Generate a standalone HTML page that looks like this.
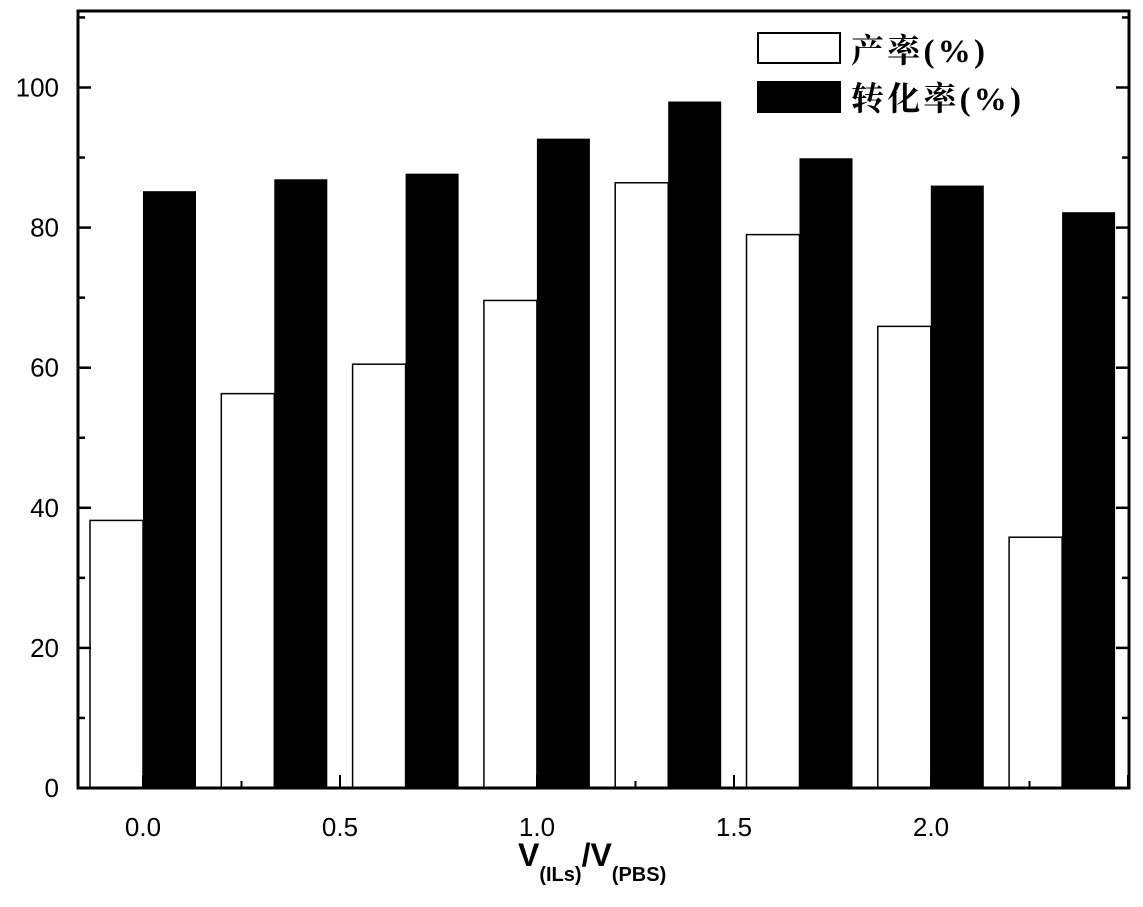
<!DOCTYPE html>
<html><head><meta charset="utf-8"><style>
html,body{margin:0;padding:0;background:#fff}
svg{display:block}
text{font-family:"Liberation Sans",Arial,sans-serif}
.cjk{font-family:"Liberation Serif","Noto Serif CJK SC",serif;font-weight:bold}
</style></head><body>
<svg id="chart" width="1143" height="907" viewBox="0 0 1143 907" xmlns="http://www.w3.org/2000/svg">
<g id="bars"></g>
<g id="axes"></g>
<g>
 <rect x="758" y="33" width="82" height="30" fill="#fff" stroke="#000" stroke-width="2"/>
 <text x="851" y="62" font-size="33" textLength="134" class="cjk">产率(%)</text>
 <rect x="757" y="81" width="84" height="32" fill="#000"/>
 <text x="851" y="110" font-size="33" textLength="170" class="cjk">转化率(%)</text>
</g>
<text x="518" y="866" font-size="32" font-weight="bold">V<tspan font-size="20" dy="15">(ILs)</tspan><tspan font-size="32" dy="-15">/V</tspan><tspan font-size="20" dy="15">(PBS)</tspan></text>
</svg>
<script>
const groups = [0,1,2,3,4,5,6,7];
const yieldVals = [38.2, 56.3, 60.5, 69.6, 86.4, 79.0, 65.9, 35.8];
const convVals = [85.2, 86.9, 87.7, 92.7, 98.0, 89.9, 86.0, 82.2];
const yTicks = [0, 20, 40, 60, 80, 100];
const xTicks = [0.0, 0.5, 1.0, 1.5, 2.0];
const xTickLabels = ["0.0", "0.5", "1.0", "1.5", "2.0"];

const NS = "http://www.w3.org/2000/svg";
const L = 78, R = 1129, T = 11, B = 788;
const y = v => B - v * 7.005;
const xv = v => 143 + v * 394;
const gx = i => 143 + i * 131.3;
const BW = 53;
function mk(tag, attrs, parent){ const e=document.createElementNS(NS,tag); for(const k in attrs) e.setAttribute(k,attrs[k]); parent.appendChild(e); return e; }
const bars = document.getElementById('bars');
const axes = document.getElementById('axes');
groups.forEach((g,i)=>{
  const w = mk('rect',{x:gx(i)-BW, y:y(yieldVals[i]), width:BW, height:B-y(yieldVals[i]), fill:'#fff', stroke:'#000','stroke-width':1.5}, bars);
  
  
  const b = mk('rect',{x:gx(i), y:y(convVals[i]), width:BW, height:B-y(convVals[i]), fill:'#000'}, bars);
  
  
});
const f = mk('rect',{x:L,y:T,width:R-L,height:B-T,fill:'none',stroke:'#000','stroke-width':3}, axes);


for(let v=0; v<=110; v+=10){
  const len = v%20===0 ? 13 : 7;
  mk('line',{x1:L,x2:L+len,y1:y(v),y2:y(v),stroke:'#000','stroke-width':2.5}, axes);
  mk('line',{x1:R,x2:R-len,y1:y(v),y2:y(v),stroke:'#000','stroke-width':2.5}, axes);
}
yTicks.forEach(v=>{
  const t = mk('text',{x:59,y:y(v)+9,'font-size':26,'text-anchor':'end'}, axes);
  t.textContent = v;
  
  
});
for(let v=-0.25; v<=2.5; v+=0.25){
  const px = xv(v); if(px<=L||px>=R) continue;
  const major = Math.abs(v*2-Math.round(v*2))<1e-6;
  mk('line',{x1:px,x2:px,y1:B,y2:B-(major?13:7),stroke:'#000','stroke-width':2}, axes);
}
xTicks.forEach((v,i)=>{
  const t = mk('text',{x:xv(v),y:836,'font-size':26,'text-anchor':'middle'}, axes);
  t.textContent = xTickLabels[i];
  
  
});
</script>
</body></html>
